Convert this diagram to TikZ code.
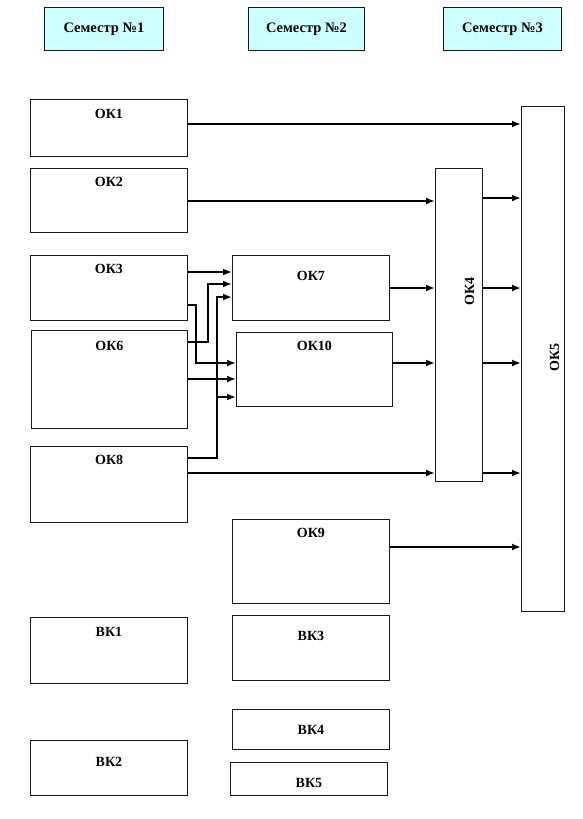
\documentclass[tikz,border=0pt]{standalone}
\usepackage{fontspec}
\setmainfont{Liberation Serif}
\usetikzlibrary{arrows.meta}
\definecolor{hdrfill}{RGB}{204,255,255}
\begin{document}
\begin{tikzpicture}[x=1pt,y=-1pt,
  blk/.style={draw=black!90, line width=0.9pt, anchor=north west, inner sep=0pt, fill=white},
  wh/.style 2 args={minimum width=#1pt, minimum height=#2pt},
  lfont/.style={font=\fontsize{14}{16}\selectfont\bfseries},
  lbl/.style 2 args={label={[anchor=center,yshift=-#1pt,inner sep=0pt,lfont]north:#2}},
  hdr/.style={blk, fill=hdrfill, font=\fontsize{14.5}{16}\selectfont\bfseries},
  arr/.style={line width=2.3pt, line join=miter, -{Latex[length=9pt,width=7pt]}}
]
\useasboundingbox (0,0) rectangle (583,819);
% headers
\node[hdr, wh={119}{43}] (s1) at (44,7) {Семестр №1};
\node[hdr, wh={116}{43}] (s2) at (248,7) {Семестр №2};
\node[hdr, wh={118}{43}] (s3) at (443,7) {Семестр №3};
% column 1
\node[blk, wh={157}{57}, lbl={15}{ОК1}] (ok1) at (30,99) {};
\node[blk, wh={157}{64}, lbl={14}{ОК2}] (ok2) at (30,168) {};
\node[blk, wh={157}{65}, lbl={14}{ОК3}] (ok3) at (30,255) {};
\node[blk, wh={156}{98}, lbl={16}{ОК6}] (ok6) at (31,330) {};
\node[blk, line width=1.3pt, wh={157}{76}, lbl={14}{ОК8}] (ok8) at (30,446) {};
\node[blk, wh={157}{66}, lbl={15}{ВК1}] (bk1) at (30,617) {};
\node[blk, wh={157}{55}, lbl={22}{ВК2}] (bk2) at (30,740) {};
% column 2
\node[blk, wh={157}{65}, lbl={21}{ОК7}] (ok7) at (232,255) {};
\node[blk, wh={156}{74}, lbl={14}{ОК10}] (ok10) at (236,332) {};
\node[blk, wh={157}{84}, lbl={14}{ОК9}] (ok9) at (232,519) {};
\node[blk, wh={157}{65}, lbl={21}{ВК3}] (bk3) at (232,615) {};
\node[blk, wh={157}{40}, lbl={21}{ВК4}] (bk4) at (232,709) {};
\node[blk, wh={157}{33}, lbl={21}{ВК5}] (bk5) at (230,762) {};
% column 3
\node[blk, wh={47}{313}, label={[shift={(10.5pt,33.5pt)},rotate=90,anchor=center,inner sep=0pt,lfont]center:ОК4}] (ok4) at (435,168) {};
\node[blk, wh={43}{505}, label={[shift={(11.5pt,1.5pt)},rotate=90,anchor=center,inner sep=0pt,lfont]center:ОК5}] (ok5) at (521,106) {};
% connectors
\draw[arr] (ok1.east |- 0,124) -- (ok5.west |- 0,124);
\draw[arr] (ok2.east |- 0,201) -- (ok4.west |- 0,201);
\draw[arr] (ok3.east |- 0,272) -- (ok7.west |- 0,272);
\draw[arr] (ok3.east |- 0,305) -- (196,305) -- (196,363) -- (ok10.west |- 0,363);
\draw[arr] (ok6.east |- 0,342) -- (208,342) -- (208,284) -- (ok7.west |- 0,284);
\draw[arr] (ok6.east |- 0,379) -- (ok10.west |- 0,379);
\draw[arr] (ok8.east |- 0,458) -- (217,458) -- (217,297) -- (ok7.west |- 0,297);
\coordinate (j) at (217,397);
\draw[arr] (j) -- (ok10.west |- j);
\draw[arr] (ok8.east |- 0,473) -- (ok4.west |- 0,473);
\draw[arr] (ok7.east |- 0,288) -- (ok4.west |- 0,288);
\draw[arr] (ok10.east |- 0,363) -- (ok4.west |- 0,363);
\draw[arr] (ok4.east |- 0,198) -- (ok5.west |- 0,198);
\draw[arr] (ok4.east |- 0,288) -- (ok5.west |- 0,288);
\draw[arr] (ok4.east |- 0,363) -- (ok5.west |- 0,363);
\draw[arr] (ok4.east |- 0,473) -- (ok5.west |- 0,473);
\draw[arr] (ok9.east |- 0,547) -- (ok5.west |- 0,547);
\end{tikzpicture}
\end{document}
